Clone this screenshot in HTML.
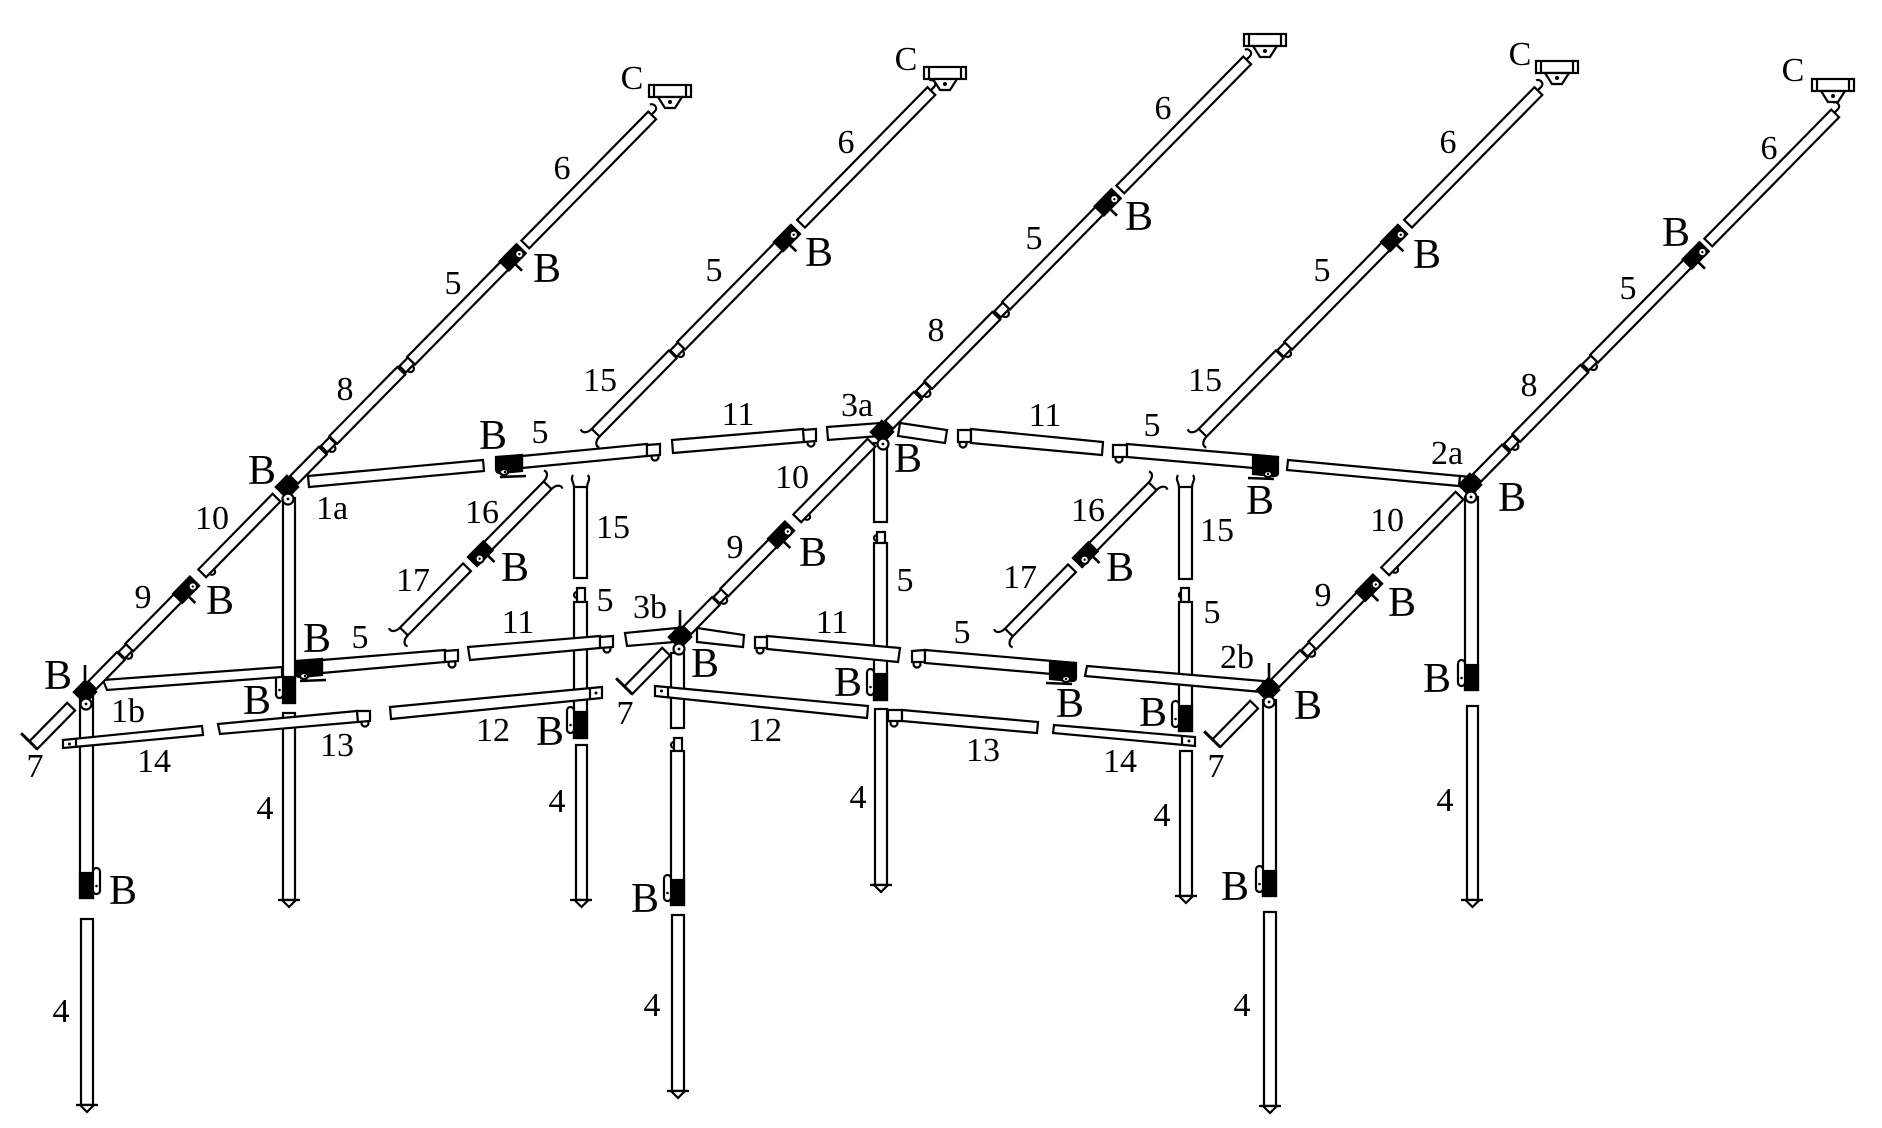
<!DOCTYPE html>
<html><head><meta charset="utf-8"><style>
html,body{margin:0;padding:0;background:#fff;}
svg{display:block}
text{font-family:"Liberation Serif","DejaVu Serif",serif;fill:#000;stroke:none;text-anchor:middle}
.n{font-size:34px}
.b{font-size:42px}
</style></head><body>
<svg width="1882" height="1128" viewBox="0 0 1882 1128" xmlns="http://www.w3.org/2000/svg">
<defs>
<g id="rA" fill="#fff" stroke="#000" stroke-width="2.2">
<rect x="-362" y="-5.5" width="54" height="11"/>
<path d="M-362,5.5V-17" fill="none" stroke-width="3"/>
<rect x="-278" y="-5.5" width="41" height="11"/>
<circle cx="-231" cy="5" r="3.5"/>
<rect x="-236" y="-4.5" width="11" height="9"/>
<rect x="-225" y="-5.5" width="93" height="11"/>
<rect x="-156" y="-6.5" width="24" height="13" fill="#000"/>
<circle cx="-137" cy="2.5" r="4.2"/>
<circle cx="-137" cy="2.5" r="1.2" fill="#000" stroke="none"/>
<path d="M-147,6.5V16" fill="none" stroke-width="2.6"/>
<circle cx="-113" cy="6" r="3"/>
<rect x="-121" y="-5.5" width="106" height="11"/>
<rect x="10" y="-5.5" width="41" height="11"/>
<circle cx="59" cy="5" r="3.5"/>
<rect x="53" y="-4.5" width="12" height="9"/>
<rect x="66" y="-5.5" width="97" height="11"/>
<circle cx="171" cy="5" r="3.5"/>
<rect x="165" y="-4.5" width="12" height="9"/>
<rect x="177" y="-5.5" width="157" height="11"/>
<rect x="310" y="-6.5" width="24" height="13" fill="#000"/>
<circle cx="329" cy="2.5" r="4.2"/>
<circle cx="329" cy="2.5" r="1.2" fill="#000" stroke="none"/>
<path d="M319,6.5V16" fill="none" stroke-width="2.6"/>
<rect x="340" y="-5.5" width="181" height="11"/>
<path d="M521,-1H526C531,-1 531,-8 527,-9" fill="none"/>
</g>
<g id="rB" fill="#fff" stroke="#000" stroke-width="2.2">
<path d="M-273,-5.5C-279,-5.5 -283,-9 -281,-13M-273,5.5C-279,5.5 -283,9 -281,13" fill="none"/>
<rect x="-273" y="-5.5" width="110" height="11"/>
<circle cx="-157" cy="5" r="3.5"/>
<rect x="-162" y="-4.5" width="11" height="9"/>
<rect x="-151" y="-5.5" width="163" height="11"/>
<rect x="-12" y="-6.5" width="24" height="13" fill="#000"/>
<circle cx="7" cy="2.5" r="4.2"/>
<circle cx="7" cy="2.5" r="1.2" fill="#000" stroke="none"/>
<path d="M-3,6.5V16" fill="none" stroke-width="2.6"/>
<rect x="20" y="-5.5" width="186" height="11"/>
<path d="M206,-1H211C216,-1 216,-8 212,-9" fill="none"/>
</g>
<g id="rC" fill="#fff" stroke="#000" stroke-width="2.2">
<path d="M-110,-5.5C-116,-5.5 -120,-9 -118,-13M-110,5.5C-116,5.5 -120,9 -118,13" fill="none"/>
<rect x="-110" y="-5.5" width="90" height="11"/>
<rect x="-12" y="-5.5" width="107" height="11"/>
<rect x="-12" y="-6.5" width="22" height="13" fill="#000"/>
<circle cx="-5" cy="3" r="4.2"/>
<circle cx="-5" cy="3" r="1.2" fill="#000" stroke="none"/>
<path d="M3,6.5V16" fill="none" stroke-width="2.6"/>
<path d="M95,-5.5C101,-5.5 105,-9 103,-13M95,5.5C101,5.5 105,9 103,13" fill="none"/>
</g>
</defs>

<g fill="#fff" stroke="#000" stroke-width="2.2">
<!-- LEGS -->
<rect x="80" y="697" width="13" height="201"/>
<rect x="80" y="873" width="13" height="25" fill="#000"/>
<rect x="93" y="868" width="7" height="26" rx="3.5"/><circle cx="96.5" cy="886" r="1.3" fill="#000" stroke="none"/>
<rect x="81" y="919" width="12" height="186"/>
<path d="M76,1105H98" fill="none"/><path d="M80,1105L94,1105L87,1112Z"/>

<rect x="283" y="498" width="12" height="205"/>
<rect x="283" y="677" width="12" height="26" fill="#000"/>
<rect x="276" y="672" width="7" height="26" rx="3.5"/><circle cx="279.5" cy="690" r="1.3" fill="#000" stroke="none"/>
<rect x="283" y="713" width="12" height="187"/>
<path d="M278,900H300" fill="none"/><path d="M282,900L296,900L289,907Z"/>

<path d="M574,487C574,482 570,480 573,475M587,487C587,482 591,480 588,475" fill="none"/>
<rect x="574" y="487" width="13" height="91"/>
<circle cx="577" cy="595" r="3"/>
<rect x="577" y="588" width="8" height="14"/>
<rect x="574" y="602" width="13" height="136"/>
<rect x="574" y="712" width="13" height="26" fill="#000"/>
<rect x="567" y="707" width="7" height="26" rx="3.5"/><circle cx="570.5" cy="725" r="1.3" fill="#000" stroke="none"/>
<rect x="576" y="745" width="11" height="155"/>
<path d="M570,900H592" fill="none"/><path d="M574.5,900L588.5,900L581.5,907Z"/>

<rect x="671" y="653" width="13" height="75"/>
<circle cx="674" cy="745" r="3"/>
<rect x="674" y="738" width="8" height="13"/>
<rect x="671" y="751" width="13" height="154"/>
<rect x="671" y="880" width="13" height="25" fill="#000"/>
<rect x="664" y="875" width="7" height="26" rx="3.5"/><circle cx="667.5" cy="893" r="1.3" fill="#000" stroke="none"/>
<rect x="672" y="915" width="12" height="176"/>
<path d="M667,1091H689" fill="none"/><path d="M671,1091L685,1091L678,1098Z"/>

<rect x="874" y="443" width="13" height="79"/>
<circle cx="877" cy="538" r="3"/>
<rect x="877" y="532" width="8" height="11"/>
<rect x="874" y="543" width="13" height="157"/>
<rect x="874" y="674" width="13" height="26" fill="#000"/>
<rect x="867" y="669" width="7" height="26" rx="3.5"/><circle cx="870.5" cy="687" r="1.3" fill="#000" stroke="none"/>
<rect x="875" y="709" width="12" height="176"/>
<path d="M870,885H892" fill="none"/><path d="M874,885L888,885L881,892Z"/>

<path d="M1179,487C1179,482 1175,480 1178,475M1192,487C1192,482 1196,480 1193,475" fill="none"/>
<rect x="1179" y="487" width="13" height="92"/>
<circle cx="1182" cy="595" r="3"/>
<rect x="1181" y="588" width="8" height="14"/>
<rect x="1179" y="602" width="13" height="129"/>
<rect x="1179" y="706" width="13" height="25" fill="#000"/>
<rect x="1172" y="701" width="7" height="26" rx="3.5"/><circle cx="1175.5" cy="719" r="1.3" fill="#000" stroke="none"/>
<rect x="1180" y="751" width="12" height="145"/>
<path d="M1175,896H1197" fill="none"/><path d="M1179,896L1193,896L1186,903Z"/>

<rect x="1263" y="700" width="13" height="196"/>
<rect x="1263" y="871" width="13" height="25" fill="#000"/>
<rect x="1256" y="866" width="7" height="26" rx="3.5"/><circle cx="1259.5" cy="884" r="1.3" fill="#000" stroke="none"/>
<rect x="1264" y="912" width="12" height="194"/>
<path d="M1259,1106H1281" fill="none"/><path d="M1263,1106L1277,1106L1270,1113Z"/>

<rect x="1465" y="497" width="13" height="193"/>
<rect x="1465" y="665" width="13" height="25" fill="#000"/>
<rect x="1458" y="660" width="7" height="26" rx="3.5"/><circle cx="1461.5" cy="678" r="1.3" fill="#000" stroke="none"/>
<rect x="1467" y="706" width="11" height="194"/>
<path d="M1461,900H1483" fill="none"/><path d="M1465.5,900L1479.5,900L1472.5,907Z"/>

<!-- BACK ROW -->
<polygon points="308,476 483,460 484,471 309,487"/>
<polygon points="522,456 647,444 647,456 522,468"/>
<path d="M496,457L522,455L522,471L500,473Q496,473 496,469Z" fill="#000"/>
<ellipse cx="504" cy="472" rx="4" ry="3"/><circle cx="505" cy="472" r="1.2" fill="#000" stroke="none"/>
<path d="M500,477L526,476" fill="none" stroke-width="2.6"/>
<circle cx="655" cy="457" r="3.5"/><polygon points="647,445 660,444 660,455 647,456"/>
<polygon points="672,440 803,429 804,442 673,453"/>
<circle cx="811" cy="443" r="3.5"/><polygon points="803,430 816,429 816,441 804,442"/>
<polygon points="827,427 880,423 880,436 828,440"/>
<polygon points="900,423 947,430 945,443 898,436"/>
<circle cx="963" cy="444" r="3.5"/><polygon points="958,430 971,430 971,442 958,442"/>
<polygon points="971,429 1103,442 1102,455 971,443"/>
<circle cx="1119" cy="459" r="3.5"/><polygon points="1113,445 1127,445 1127,457 1113,457"/>
<polygon points="1127,444 1278,457 1277,470 1127,457"/>
<path d="M1253,455L1278,457L1278,473Q1278,476 1274,476L1253,474Z" fill="#000"/>
<ellipse cx="1268" cy="474" rx="4" ry="3"/><circle cx="1268" cy="474" r="1.2" fill="#000" stroke="none"/>
<path d="M1248,478L1274,479" fill="none" stroke-width="2.6"/>
<polygon points="1288,460 1460,476 1459,486 1287,470"/>
<polygon points="1460,476 1471,477 1471,488 1459,486"/>

<!-- FRONT ROW -->
<polygon points="103,680 282,667 282,677 107,690"/>
<polygon points="322,660 445,650 445,662 322,673"/>
<path d="M296,661L322,659L322,675L300,677Q296,677 296,673Z" fill="#000"/>
<ellipse cx="304" cy="676" rx="4" ry="3"/><circle cx="305" cy="676" r="1.2" fill="#000" stroke="none"/>
<path d="M300,681L326,680" fill="none" stroke-width="2.6"/>
<circle cx="452" cy="664" r="3.5"/><polygon points="445,651 458,650 458,661 445,662"/>
<polygon points="468,647 600,636 600,648 470,660"/>
<circle cx="607" cy="649" r="3.5"/><polygon points="600,637 613,636 613,647 600,648"/>
<polygon points="625,633 677,628 675,642 627,646"/>
<polygon points="697,628 744,635 743,647 697,642"/>
<circle cx="760" cy="650" r="3.5"/><polygon points="755,637 767,637 767,648 755,648"/>
<polygon points="767,636 900,648 898,662 767,649"/>
<circle cx="917" cy="664" r="3.5"/><polygon points="912,651 925,650 925,662 912,662"/>
<polygon points="925,650 1076,663 1075,676 925,663"/>
<path d="M1050,661L1076,663L1076,678Q1076,681 1072,681L1050,679Z" fill="#000"/>
<ellipse cx="1066" cy="679" rx="4" ry="3"/><circle cx="1066" cy="679" r="1.2" fill="#000" stroke="none"/>
<path d="M1046,683L1072,684" fill="none" stroke-width="2.6"/>
<polygon points="1087,666 1263,681 1262,692 1085,676"/>
<polygon points="1263,681 1272,682 1272,693 1262,692"/>

<!-- LOWEST ROW -->
<polygon points="63,740 202,726 203,735 63,748"/>
<path d="M76,739V747" fill="none"/><circle cx="69.5" cy="744" r="1.5" fill="#000" stroke="none"/>
<polygon points="218,724 357,711 358,722 220,734"/>
<circle cx="365" cy="723" r="3.5"/><polygon points="357,711 370,711 370,721 358,722"/>
<polygon points="390,707 602,687 602,698 391,719"/>
<path d="M590,688V699" fill="none"/><circle cx="596" cy="693" r="1.5" fill="#000" stroke="none"/>
<polygon points="655,686 868,706 867,718 655,696"/>
<path d="M668,687V698" fill="none"/><circle cx="661.5" cy="691" r="1.5" fill="#000" stroke="none"/>
<circle cx="894" cy="723" r="3.5"/><polygon points="888,710 902,710 902,721 888,721"/>
<polygon points="902,710 1038,722 1037,733 902,721"/>
<polygon points="1054,725 1195,737 1195,746 1053,733"/>
<path d="M1182,736V745" fill="none"/><circle cx="1189" cy="741" r="1.5" fill="#000" stroke="none"/>
</g>

<!-- RAFTERS -->
<use href="#rA" transform="translate(287,487) rotate(-45.5)"/>
<use href="#rA" transform="translate(882,432) rotate(-45.5)"/>
<use href="#rA" transform="translate(1470,485) rotate(-45.5)"/>
<use href="#rB" transform="translate(787,238) rotate(-45.5)"/>
<use href="#rB" transform="translate(1394,238) rotate(-45.5)"/>
<use href="#rC" transform="translate(481,553) rotate(-45.5)"/>
<use href="#rC" transform="translate(1086,554) rotate(-45.5)"/>

<!-- MAIN JOINTS -->
<g fill="#fff" stroke="#000" stroke-width="2.2">
<g transform="translate(287,487)"><rect x="-9" y="-9" width="18" height="18" transform="rotate(-45.5)" fill="#000" stroke="none"/><circle cx="1" cy="12" r="5.5"/><circle cx="1" cy="12" r="1.4" fill="#000" stroke="none"/></g>
<g transform="translate(882,432)"><rect x="-9" y="-9" width="18" height="18" transform="rotate(-45.5)" fill="#000" stroke="none"/><circle cx="1" cy="12" r="5.5"/><circle cx="1" cy="12" r="1.4" fill="#000" stroke="none"/></g>
<g transform="translate(1470,485)"><rect x="-9" y="-9" width="18" height="18" transform="rotate(-45.5)" fill="#000" stroke="none"/><circle cx="1" cy="12" r="5.5"/><circle cx="1" cy="12" r="1.4" fill="#000" stroke="none"/></g>
<g transform="translate(85,692)"><rect x="-9" y="-9" width="18" height="18" transform="rotate(-45.5)" fill="#000" stroke="none"/><circle cx="1" cy="12" r="5.5"/><circle cx="1" cy="12" r="1.4" fill="#000" stroke="none"/><path d="M0,-11V-27" fill="none" stroke-width="2.6"/></g>
<g transform="translate(680,637)"><rect x="-9" y="-9" width="18" height="18" transform="rotate(-45.5)" fill="#000" stroke="none"/><circle cx="-1" cy="12" r="5.5"/><circle cx="-1" cy="12" r="1.4" fill="#000" stroke="none"/><path d="M0,-11V-27" fill="none" stroke-width="2.6"/></g>
<g transform="translate(1268,690)"><rect x="-9" y="-9" width="18" height="18" transform="rotate(-45.5)" fill="#000" stroke="none"/><circle cx="1" cy="12" r="5.5"/><circle cx="1" cy="12" r="1.4" fill="#000" stroke="none"/><path d="M1,-11V-27" fill="none" stroke-width="2.6"/></g>

<!-- C BRACKETS -->
<g transform="translate(670,85)"><rect x="-21" y="0" width="42" height="12"/><path d="M-16,0V12M16,0V12" fill="none"/><path d="M-12,12L12,12L5,23L-5,23Z"/><circle cx="0" cy="17" r="2" fill="#000" stroke="none"/></g>
<g transform="translate(945,67)"><rect x="-21" y="0" width="42" height="12"/><path d="M-16,0V12M16,0V12" fill="none"/><path d="M-12,12L12,12L5,23L-5,23Z"/><circle cx="0" cy="17" r="2" fill="#000" stroke="none"/></g>
<g transform="translate(1265,34)"><rect x="-21" y="0" width="42" height="12"/><path d="M-16,0V12M16,0V12" fill="none"/><path d="M-12,12L12,12L5,23L-5,23Z"/><circle cx="0" cy="17" r="2" fill="#000" stroke="none"/></g>
<g transform="translate(1557,61)"><rect x="-21" y="0" width="42" height="12"/><path d="M-16,0V12M16,0V12" fill="none"/><path d="M-12,12L12,12L5,23L-5,23Z"/><circle cx="0" cy="17" r="2" fill="#000" stroke="none"/></g>
<g transform="translate(1833,79)"><rect x="-21" y="0" width="42" height="12"/><path d="M-16,0V12M16,0V12" fill="none"/><path d="M-12,12L12,12L5,23L-5,23Z"/><circle cx="0" cy="17" r="2" fill="#000" stroke="none"/></g>
</g>

<!-- LABELS: C -->
<text class="n" x="632" y="89">C</text>
<text class="n" x="906" y="70">C</text>
<text class="n" x="1520" y="65">C</text>
<text class="n" x="1793" y="81">C</text>

<!-- LABELS: B -->
<text class="b" x="547" y="282">B</text>
<text class="b" x="819" y="266">B</text>
<text class="b" x="1139" y="230">B</text>
<text class="b" x="1427" y="268">B</text>
<text class="b" x="1676" y="246">B</text>
<text class="b" x="262" y="484">B</text>
<text class="b" x="220" y="614">B</text>
<text class="b" x="58" y="689">B</text>
<text class="b" x="317" y="652">B</text>
<text class="b" x="257" y="714">B</text>
<text class="b" x="123" y="904">B</text>
<text class="b" x="493" y="449">B</text>
<text class="b" x="515" y="581">B</text>
<text class="b" x="908" y="472">B</text>
<text class="b" x="813" y="566">B</text>
<text class="b" x="705" y="677">B</text>
<text class="b" x="550" y="745">B</text>
<text class="b" x="848" y="696">B</text>
<text class="b" x="645" y="912">B</text>
<text class="b" x="1260" y="514">B</text>
<text class="b" x="1120" y="581">B</text>
<text class="b" x="1070" y="717">B</text>
<text class="b" x="1153" y="726">B</text>
<text class="b" x="1308" y="719">B</text>
<text class="b" x="1402" y="616">B</text>
<text class="b" x="1512" y="511">B</text>
<text class="b" x="1437" y="692">B</text>
<text class="b" x="1235" y="900">B</text>

<!-- LABELS: numbers -->
<text class="n" x="562" y="179">6</text>
<text class="n" x="453" y="294">5</text>
<text class="n" x="345" y="400">8</text>
<text class="n" x="212" y="529">10</text>
<text class="n" x="143" y="608">9</text>
<text class="n" x="35" y="777">7</text>
<text class="n" x="332" y="519">1a</text>
<text class="n" x="128" y="722">1b</text>
<text class="n" x="154" y="772">14</text>
<text class="n" x="337" y="756">13</text>
<text class="n" x="493" y="741">12</text>
<text class="n" x="265" y="819">4</text>
<text class="n" x="61" y="1022">4</text>
<text class="n" x="540" y="443">5</text>
<text class="n" x="738" y="425">11</text>
<text class="n" x="846" y="153">6</text>
<text class="n" x="714" y="281">5</text>
<text class="n" x="600" y="391">15</text>
<text class="n" x="482" y="523">16</text>
<text class="n" x="413" y="591">17</text>
<text class="n" x="613" y="538">15</text>
<text class="n" x="605" y="611">5</text>
<text class="n" x="518" y="633">11</text>
<text class="n" x="360" y="648">5</text>
<text class="n" x="857" y="416">3a</text>
<text class="n" x="792" y="488">10</text>
<text class="n" x="735" y="558">9</text>
<text class="n" x="650" y="618">3b</text>
<text class="n" x="625" y="724">7</text>
<text class="n" x="765" y="741">12</text>
<text class="n" x="557" y="812">4</text>
<text class="n" x="652" y="1016">4</text>
<text class="n" x="905" y="591">5</text>
<text class="n" x="858" y="808">4</text>
<text class="n" x="936" y="341">8</text>
<text class="n" x="1034" y="249">5</text>
<text class="n" x="1163" y="119">6</text>
<text class="n" x="832" y="633">11</text>
<text class="n" x="1045" y="426">11</text>
<text class="n" x="1152" y="436">5</text>
<text class="n" x="1205" y="391">15</text>
<text class="n" x="1322" y="281">5</text>
<text class="n" x="1448" y="153">6</text>
<text class="n" x="1088" y="521">16</text>
<text class="n" x="1020" y="588">17</text>
<text class="n" x="1217" y="541">15</text>
<text class="n" x="1212" y="623">5</text>
<text class="n" x="962" y="643">5</text>
<text class="n" x="983" y="761">13</text>
<text class="n" x="1120" y="772">14</text>
<text class="n" x="1162" y="826">4</text>
<text class="n" x="1237" y="668">2b</text>
<text class="n" x="1216" y="777">7</text>
<text class="n" x="1242" y="1016">4</text>
<text class="n" x="1323" y="606">9</text>
<text class="n" x="1387" y="531">10</text>
<text class="n" x="1447" y="464">2a</text>
<text class="n" x="1529" y="396">8</text>
<text class="n" x="1628" y="299">5</text>
<text class="n" x="1769" y="159">6</text>
<text class="n" x="1445" y="811">4</text>
</svg>
</body></html>
